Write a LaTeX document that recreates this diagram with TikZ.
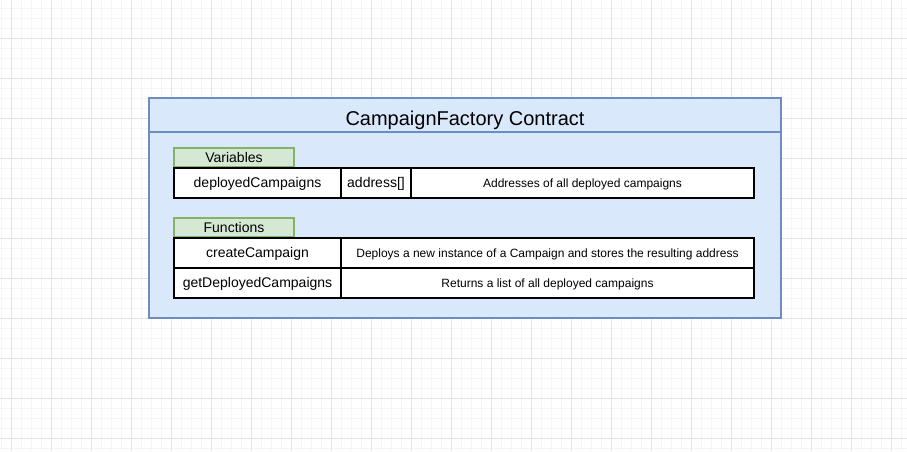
\documentclass[tikz,border=0pt]{standalone}
\usepackage{fontspec}
\setmainfont{Liberation Sans}
\definecolor{gridmajor}{HTML}{E3E3E3}
\definecolor{gridminor}{HTML}{F5F5F5}
\definecolor{contractfill}{HTML}{DAE8FC}
\definecolor{contractline}{HTML}{6C8EBF}
\definecolor{tabfill}{HTML}{D5E8D4}
\definecolor{tabline}{HTML}{82B366}
\begin{document}
\begin{tikzpicture}[x=1pt,y=-1pt,
  box/.style={anchor=north west,inner sep=0pt,outer sep=0pt},
  contract/.style={box,draw=contractline,fill=contractfill,line width=1.8pt},
  tab/.style={box,draw=tabline,fill=tabfill,line width=1.8pt,minimum width=120pt,minimum height=19pt,
    text height=10.4pt,text depth=0pt,font=\fontsize{14}{16}\selectfont},
  cell/.style={box,draw=black,fill=white,line width=2.2pt,minimum height=30pt,
    text height=10.5pt,text depth=2pt,font=\fontsize{14}{16}\selectfont},
  desc/.style={cell,text height=10.5pt,text depth=2pt,font=\fontsize{12}{14}\selectfont}]
  % canvas and grid
  \fill[white] (0,0) rectangle (907,451);
  \useasboundingbox (0,0) rectangle (907,451);
  \foreach \k in {1,11,...,901} \draw[gridminor,line width=0.8pt] (\k,0) -- (\k,451);
  \foreach \k in {8,18,...,448} \draw[gridminor,line width=0.8pt] (0,\k) -- (907,\k);
  \foreach \k in {11,51,...,891} \draw[gridmajor,line width=0.8pt] (\k,0) -- (\k,451);
  \foreach \k in {38,78,...,438} \draw[gridmajor,line width=0.8pt] (0,\k) -- (907,\k);
  % contract container
  \node[contract,minimum width=632pt,minimum height=220pt] (contract) at (149,98) {};
  \node[contract,minimum width=632pt,minimum height=34pt,text height=20pt,text depth=0pt,
    font=\fontsize{20}{24}\selectfont] (title) at (149,98) {CampaignFactory Contract};
  % variables section
  \node[tab] (vartab) at (174,148) {Variables};
  \node[cell,minimum width=167pt] (varname) at (174,168) {deployedCampaigns};
  \node[cell,minimum width=70pt] (vartype) at (341,168) {address[]};
  \node[desc,minimum width=343pt] (vardesc) at (411,168) {Addresses of all deployed campaigns};
  % functions section
  \node[tab] (funtab) at (174,218) {Functions};
  \node[cell,minimum width=167pt] (fncreate) at (174,238) {createCampaign};
  \node[desc,minimum width=413pt] (fncreatedesc) at (341,238) {Deploys a new instance of a Campaign and stores the resulting address};
  \node[cell,minimum width=167pt] (fnget) at (174,268) {getDeployedCampaigns};
  \node[desc,minimum width=413pt] (fngetdesc) at (341,268) {Returns a list of all deployed campaigns};
\end{tikzpicture}
\end{document}
